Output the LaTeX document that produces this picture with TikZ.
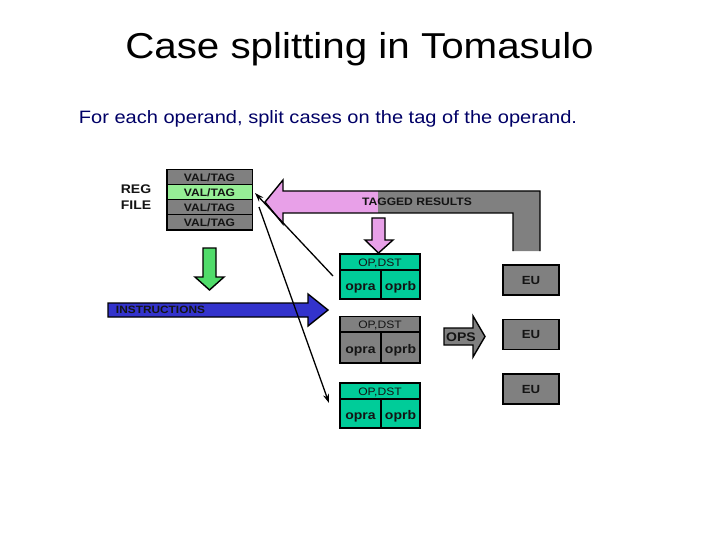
\documentclass[tikz,border=0pt]{standalone}
\usepackage{fontspec}
\setmainfont[FakeStretch=1.12]{Liberation Sans}
\usetikzlibrary{arrows.meta}
\definecolor{grayf}{RGB}{128,128,128}
\definecolor{lgreen}{RGB}{150,238,150}
\definecolor{stgreen}{RGB}{0,204,153}
\definecolor{argreen}{RGB}{80,220,106}
\definecolor{pinkf}{RGB}{232,160,232}
\definecolor{bluef}{RGB}{51,51,204}
\definecolor{navy}{RGB}{0,0,102}
\definecolor{dtext}{RGB}{20,20,20}
\tikzset{
  sm/.style={font=\fontsize{10.8}{12}\selectfont\bfseries, text=dtext},
  regrow/.style={draw=black, line width=1pt, fill=grayf, minimum width=85, minimum height=15, inner sep=0pt, sm},
  sthead/.style={draw=black, line width=1.5pt, minimum width=80, minimum height=16, inner sep=0pt, text height=8pt, text depth=0pt, font=\fontsize{10.8}{12}\selectfont, text=dtext},
  stcell/.style={draw=black, line width=1.5pt, minimum height=29, inner sep=0pt, text height=12pt, text depth=0pt, font=\fontsize{12.5}{14}\selectfont\bfseries, text=dtext},
  eubox/.style={draw=black, line width=1.5pt, fill=grayf, minimum width=56, minimum height=30, inner sep=0pt, font=\fontsize{11.8}{13}\selectfont\bfseries, text=dtext},
  conn/.style={line width=1.3pt, -{Stealth[length=9pt,width=6pt]}},
  shapeline/.style={draw=black, line width=1.4pt}
}
\begin{document}
\begin{tikzpicture}[x=1pt,y=-1pt]
\useasboundingbox (0,0) rectangle (720,540);
% title
\node[anchor=base, font=\fontsize{36}{40}\selectfont] (title) at (359.5,59) {Case splitting in Tomasulo};
\node[anchor=base, font=\fontsize{17.9}{20}\selectfont, text=navy] (sub) at (328,124) {For each operand, split cases on the tag of the operand.};
% reg file
\node[font=\fontsize{12.5}{14}\selectfont\bfseries, text=dtext] (reg) at (136,189.5) {REG};
\node[font=\fontsize{12.5}{14}\selectfont\bfseries, text=dtext] (file) at (136,205.5) {FILE};
\node[regrow] (r1) at (209.5,177.5) {VAL/TAG};
\node[regrow, fill=lgreen] (r2) at (209.5,192.5) {VAL/TAG};
\node[regrow] (r3) at (209.5,207.5) {VAL/TAG};
\node[regrow] (r4) at (209.5,222.5) {VAL/TAG};
\draw[line width=1.8pt] (r1.north west) rectangle (r4.south east);
% green down arrow
\draw[shapeline, fill=argreen] (203,248) -- (216,248) -- (216,277) -- (224,277) -- (209.5,290) -- (195,277) -- (203,277) -- cycle;
% tagged results arrow
\fill[pinkf] (265,202) -- (283,180) -- (283,191) -- (378,191) -- (378,213) -- (283,213) -- (283,224) -- cycle;
\fill[grayf] (378,191) -- (540,191) -- (540,251) -- (513,251) -- (513,213) -- (378,213) -- cycle;
\draw[shapeline] (540,251) -- (540,191) -- (283,191) -- (283,180) -- (265,202) -- (283,224) -- (283,213) -- (513,213) -- (513,251);
\node[sm] (tagged) at (417,201.5) {TAGGED RESULTS};
% pink down arrow
\draw[shapeline, fill=pinkf] (372,218) -- (385,218) -- (385,240) -- (393,240) -- (378.5,253) -- (365,240) -- (372,240) -- cycle;
% instructions arrow
\draw[shapeline, fill=bluef] (108,303) -- (308,303) -- (308,294) -- (328,310) -- (308,326) -- (308,317) -- (108,317) -- cycle;
\node[font=\fontsize{10.6}{12}\selectfont\bfseries, text=dtext] (instr) at (160.5,310) {INSTRUCTIONS};
% stations
\node[sthead, fill=stgreen] (s1h) at (380,262) {OP,DST};
\node[stcell, fill=stgreen, minimum width=41] (s1a) at (360.5,284.5) {opra};
\node[stcell, fill=stgreen, minimum width=39] (s1b) at (400.5,284.5) {oprb};
\node[sthead, fill=grayf] (s2h) at (380,324.5) {OP,DST};
\node[stcell, fill=grayf, minimum width=41, minimum height=31] (s2a) at (360.5,347.5) {opra};
\node[stcell, fill=grayf, minimum width=39, minimum height=31] (s2b) at (400.5,347.5) {oprb};
\node[sthead, fill=stgreen] (s3h) at (380,391) {OP,DST};
\node[stcell, fill=stgreen, minimum width=41] (s3a) at (360.5,413.5) {opra};
\node[stcell, fill=stgreen, minimum width=39] (s3b) at (400.5,413.5) {oprb};
% EUs
\node[eubox] (eu1) at (531,280) {EU};
\node[eubox] (eu2) at (531,334.5) {EU};
\node[eubox] (eu3) at (531,389) {EU};
% OPS arrow
\draw[shapeline, fill=grayf] (444,328) -- (473,328) -- (473,316) -- (485,336.5) -- (473,357) -- (473,345) -- (444,345) -- cycle;
\node[font=\fontsize{12.5}{14}\selectfont\bfseries, text=dtext] (ops) at (461,337) {OPS};
% connectors
\coordinate (c1s) at (333,276);
\coordinate (c1e) at (255,193);
\coordinate (c2s) at (259,207);
\coordinate (c2e) at (329,403);
\draw[conn] (c1s) -- (c1e);
\draw[conn] (c2s) -- (c2e);
\end{tikzpicture}
\end{document}
